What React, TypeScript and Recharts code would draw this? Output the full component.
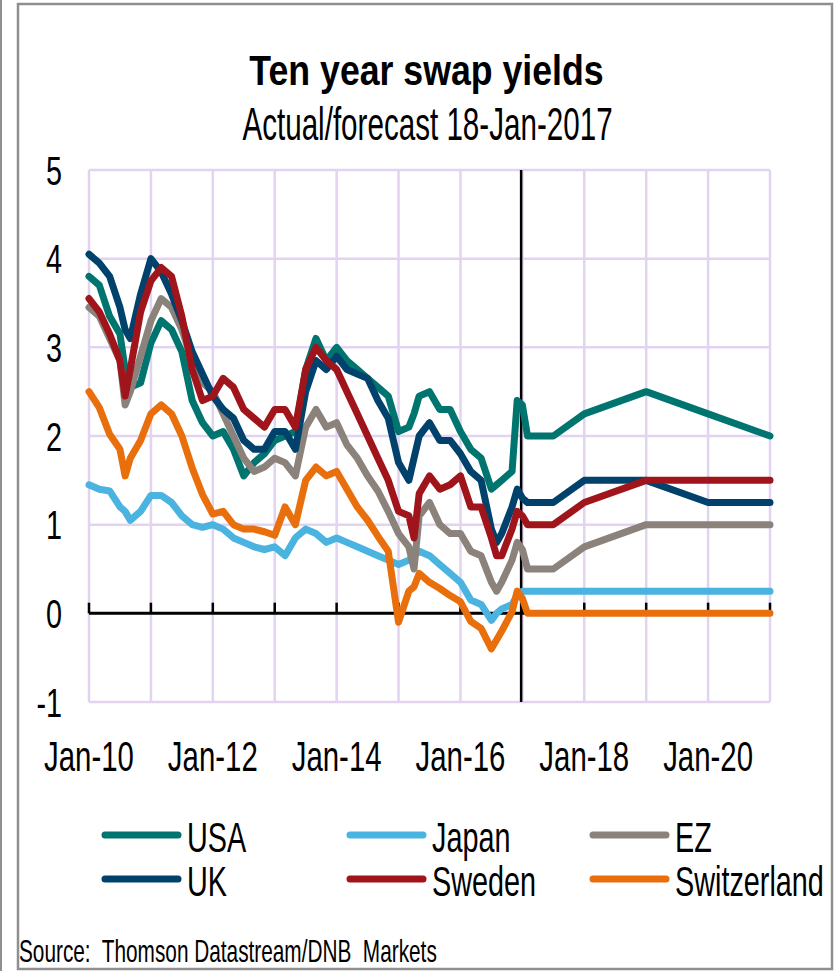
import React from 'react';
import {
  LineChart,
  Line,
  XAxis,
  YAxis,
  CartesianGrid,
  ReferenceLine,
} from 'recharts';

// Month stamps for the actual series, then the forecast horizon
const dates = [
  '2010-01', '2010-03', '2010-05', '2010-07', '2010-08', '2010-09', '2010-11',
  '2011-01', '2011-03', '2011-05', '2011-07', '2011-09', '2011-11',
  '2012-01', '2012-03', '2012-05', '2012-07', '2012-09', '2012-11',
  '2013-01', '2013-03', '2013-05', '2013-07', '2013-09', '2013-11',
  '2014-01', '2014-03', '2014-05', '2014-07', '2014-09', '2014-11',
  '2015-01', '2015-03', '2015-04', '2015-05', '2015-07', '2015-09', '2015-11',
  '2016-01', '2016-03', '2016-05', '2016-07', '2016-08', '2016-09', '2016-11', '2016-12',
  '2017-01',
  // forecasts
  '2017-02', '2017-07', '2018-01', '2019-01', '2020-01', '2021-01',
];

const usa = [
  3.8, 3.7, 3.35, 3.15, 2.75, 2.55, 2.6,
  3.05, 3.3, 3.2, 2.95, 2.4, 2.15,
  2.0, 2.05, 1.85, 1.55, 1.7, 1.8,
  1.95, 2.0, 2.05, 2.75, 3.1, 2.85,
  3.0, 2.85, 2.75, 2.65, 2.55, 2.45,
  2.05, 2.1, 2.25, 2.45, 2.5, 2.3, 2.3,
  2.05, 1.85, 1.75, 1.4, 1.45, 1.5, 1.6, 2.4,
  2.35,
  2.0, 2.0, 2.25, 2.5, 2.25, 2.0,
];

const japan = [
  1.45, 1.4, 1.38, 1.2, 1.15, 1.05, 1.15,
  1.33, 1.33, 1.25, 1.1, 1.0, 0.97,
  1.0, 0.95, 0.85, 0.8, 0.75, 0.72,
  0.75, 0.65, 0.85, 0.95, 0.9, 0.8,
  0.85, 0.8, 0.75, 0.7, 0.65, 0.6,
  0.55, 0.6, 0.65, 0.7, 0.65, 0.55, 0.45,
  0.35, 0.15, 0.1, -0.08, 0.0, 0.05, 0.1, 0.2,
  0.25,
  0.25, 0.25, 0.25, 0.25, 0.25, 0.25,
];

const ez = [
  3.45, 3.35, 3.1, 2.85, 2.35, 2.5, 2.9,
  3.3, 3.55, 3.45, 3.2, 2.85, 2.6,
  2.5, 2.25, 2.0, 1.75, 1.6, 1.65,
  1.75, 1.7, 1.55, 2.1, 2.3, 2.1,
  2.15, 1.9, 1.75, 1.55, 1.38, 1.15,
  0.9, 0.75, 0.5, 1.1, 1.25, 1.0, 0.9,
  0.9, 0.7, 0.65, 0.35, 0.25, 0.35, 0.6, 0.8,
  0.72,
  0.5, 0.5, 0.75, 1.0, 1.0, 1.0,
];

const uk = [
  4.05, 3.95, 3.8, 3.45, 3.2, 3.1, 3.6,
  4.0, 3.85, 3.6, 3.3, 2.95, 2.7,
  2.45, 2.3, 2.2, 1.95, 1.85, 1.85,
  2.05, 2.05, 1.85, 2.5, 2.85, 2.75,
  2.9, 2.75, 2.7, 2.65, 2.4, 2.2,
  1.7, 1.5, 1.75, 2.0, 2.15, 1.95, 1.95,
  1.8, 1.6, 1.5, 0.95, 0.8, 0.9, 1.2, 1.4,
  1.3,
  1.25, 1.25, 1.5, 1.5, 1.25, 1.25,
];

const sweden = [
  3.55, 3.4, 3.15, 2.85, 2.45, 2.75, 3.4,
  3.75, 3.9, 3.8, 3.35, 2.75, 2.4,
  2.45, 2.65, 2.55, 2.3, 2.2, 2.1,
  2.3, 2.3, 2.1, 2.75, 3.0, 2.85,
  2.75, 2.5, 2.25, 2.0, 1.75, 1.5,
  1.15, 1.1, 0.85, 1.35, 1.55, 1.4, 1.45,
  1.55, 1.2, 1.2, 0.85, 0.65, 0.65, 0.95, 1.15,
  1.1,
  1.0, 1.0, 1.25, 1.5, 1.5, 1.5,
];

const switzerland = [
  2.5, 2.32, 2.02, 1.85, 1.55, 1.75, 1.95,
  2.25, 2.35, 2.25, 2.0, 1.64, 1.34,
  1.12, 1.15, 1.0, 0.95, 0.95, 0.92,
  0.88, 1.2, 1.0, 1.5, 1.65, 1.55,
  1.6, 1.4, 1.2, 1.05, 0.87, 0.7,
  -0.1, 0.25, 0.3, 0.45, 0.35, 0.28, 0.2,
  0.13, -0.09, -0.17, -0.4, -0.3, -0.2, 0.02, 0.25,
  0.17,
  0, 0, 0, 0, 0, 0,
];

const yearTicks = [2010, 2011, 2012, 2013, 2014, 2015, 2016, 2017, 2018, 2019, 2020, 2021];
const labelledYears = [2010, 2012, 2014, 2016, 2018, 2020];
const yTicks = [-1, 0, 1, 2, 3, 4, 5];
const forecastDate = 2016.98;

// series in Excel's drawing order (later ones on top)
const series = [
  { key: 'usa', name: 'USA', values: usa, color: '#00756f' },
  { key: 'japan', name: 'Japan', values: japan, color: '#4ab3e0' },
  { key: 'ez', name: 'EZ', values: ez, color: '#8b827b' },
  { key: 'uk', name: 'UK', values: uk, color: '#00426b' },
  { key: 'sweden', name: 'Sweden', values: sweden, color: '#a0141b' },
  { key: 'switzerland', name: 'Switzerland', values: switzerland, color: '#e86f0c' },
];

// legend layout: rows of three, as in the original
const legendOrder = [
  ['usa', 'japan', 'ez'],
  ['uk', 'sweden', 'switzerland'],
];

const toYear = (d: string): number => {
  const [y, m] = d.split('-').map(Number);
  return y + (m - 1) / 12;
};

const chartData = dates.map((d, i) => {
  const row: Record<string, number> = { t: toYear(d) };
  series.forEach((s) => {
    row[s.key] = s.values[i];
  });
  return row;
});

const FONT = '"Liberation Sans", Arial, sans-serif';

// Condensed text: the original is squeezed horizontally
const NText: React.FC<{
  x: number;
  y: number;
  sx: number;
  size: number;
  anchor?: 'start' | 'middle' | 'end';
  weight?: string;
  children: React.ReactNode;
}> = ({ x, y, sx, size, anchor = 'start', weight = 'normal', children }) => (
  <text
    transform={`translate(${x},${y}) scale(${sx},1)`}
    fontSize={size}
    fontWeight={weight}
    fontFamily={FONT}
    textAnchor={anchor}
    fill="#000"
    style={{ whiteSpace: 'pre' }}
  >
    {children}
  </text>
);

const renderYTick = (props: any) => {
  const { y, payload } = props;
  return (
    <NText x={62} y={y + 14.5} sx={0.72} size={40} anchor="end">
      {String(payload.value)}
    </NText>
  );
};

const renderXTick = (props: any) => {
  const { x, payload } = props;
  const v = Number(payload.value);
  if (!labelledYears.includes(v)) return <g />;
  return (
    <NText x={x} y={771} sx={0.7} size={42} anchor="middle">
      {`Jan-${String(v).slice(2)}`}
    </NText>
  );
};

const App: React.FC = () => {
  const legendCols = [105, 350, 593];
  const legendRows = [835, 879];

  return (
    <div
      style={{
        position: 'absolute',
        left: 0,
        top: 0,
        width: 840,
        height: 971,
        background: '#fff',
        overflow: 'hidden',
      }}
    >
      <LineChart
        width={840}
        height={971}
        data={chartData}
        margin={{ top: 170, right: 70, bottom: 229, left: 29 }}
      >
        <CartesianGrid stroke="#e2d3f1" strokeWidth={2.5} />
        <XAxis
          dataKey="t"
          type="number"
          domain={[2010, 2021]}
          ticks={yearTicks}
          interval={0}
          height={40}
          axisLine={false}
          tickLine={false}
          tick={renderXTick}
        />
        <YAxis
          type="number"
          domain={[-1, 5]}
          ticks={yTicks}
          interval={0}
          width={60}
          axisLine={false}
          tickLine={false}
          tick={renderYTick}
        />
        <ReferenceLine y={0} stroke="#000" strokeWidth={3} />
        {yearTicks.map((yr) => (
          <ReferenceLine
            key={yr}
            segment={[
              { x: yr, y: 0 },
              { x: yr, y: 0.12 },
            ]}
            stroke="#000"
            strokeWidth={2.5}
          />
        ))}
        <ReferenceLine x={forecastDate} stroke="#000" strokeWidth={2.5} />
        {series.map((s) => (
          <Line
            key={s.key}
            type="linear"
            dataKey={s.key}
            stroke={s.color}
            strokeWidth={7}
            strokeLinecap="round"
            strokeLinejoin="round"
            dot={false}
            isAnimationActive={false}
          />
        ))}
      </LineChart>

      <svg
        width={840}
        height={971}
        style={{ position: 'absolute', left: 0, top: 0, pointerEvents: 'none' }}
      >
        <line x1={1} y1={0} x2={1} y2={971} stroke="#8f8f8f" strokeWidth={2} />
        <rect x={18} y={4} width={814} height={965} fill="none" stroke="#8f8f8f" strokeWidth={2.5} />

        <NText x={426.5} y={85} sx={0.83} size={43} weight="bold" anchor="middle">
          Ten year swap yields
        </NText>
        <NText x={427.5} y={140} sx={0.63} size={47} anchor="middle">
          Actual/forecast 18-Jan-2017
        </NText>

        {legendOrder.map((row, ri) =>
          row.map((key, ci) => {
            const s = series.find((q) => q.key === key)!;
            const lx = legendCols[ci];
            const ly = legendRows[ri];
            return (
              <g key={key}>
                <line
                  x1={lx}
                  y1={ly}
                  x2={lx + 73}
                  y2={ly}
                  stroke={s.color}
                  strokeWidth={7}
                  strokeLinecap="round"
                />
                <NText x={lx + 82} y={ly + 17} sx={0.67} size={43}>
                  {s.name}
                </NText>
              </g>
            );
          })
        )}

        <NText x={19} y={962} sx={0.65} size={32}>
          {'Source:  Thomson Datastream/DNB  Markets'}
        </NText>
      </svg>
    </div>
  );
};

export default App;
